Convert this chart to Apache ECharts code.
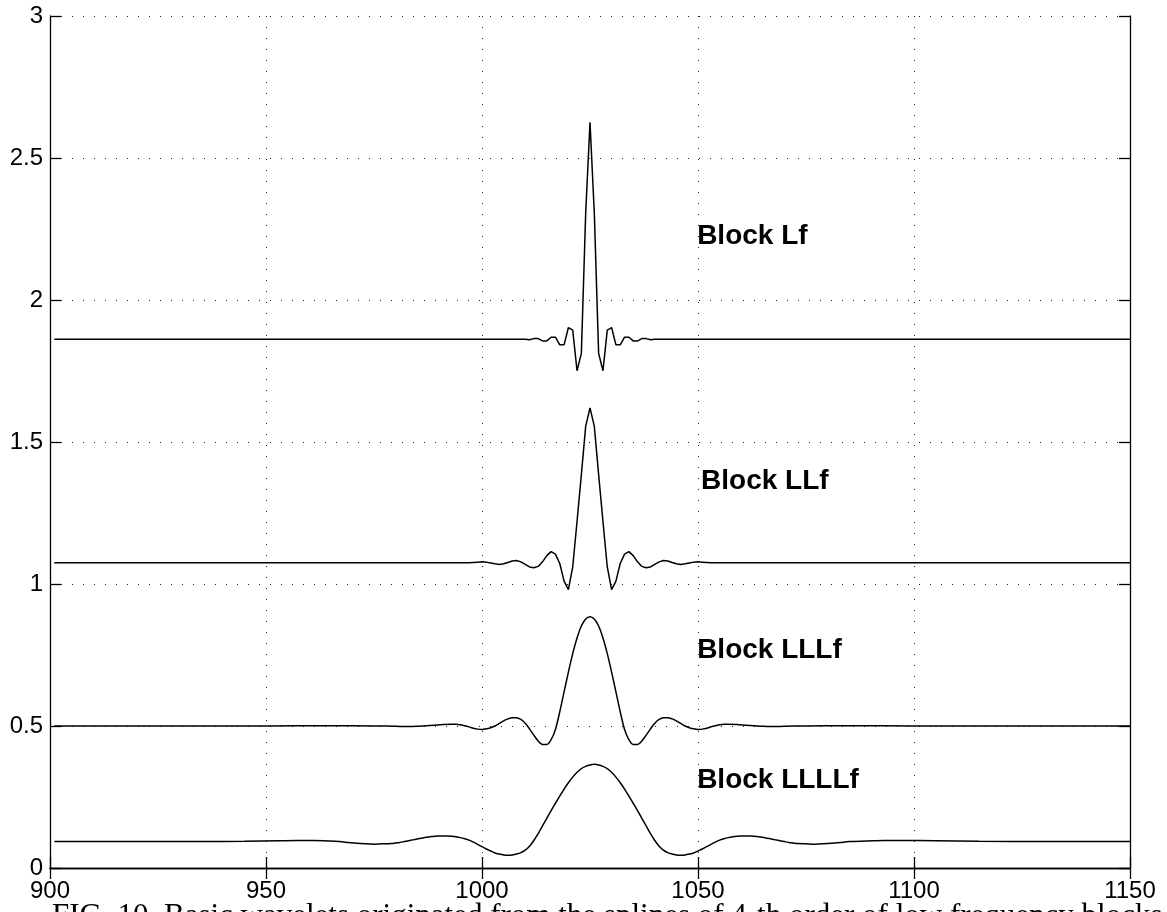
<!DOCTYPE html>
<html>
<head>
<meta charset="utf-8">
<script src="https://cdn.jsdelivr.net/npm/echarts@6/dist/echarts.min.js"></script>
<style>
  html, body { margin: 0; padding: 0; background: #fff; }
  #chart { width: 1167px; height: 912px; }
</style>
</head>
<body>
<div id="chart"></div>
<script>
// Axis ticks
const xTicks = [900, 950, 1000, 1050, 1100, 1150];
const yTicks = [0, 0.5, 1, 1.5, 2, 2.5, 3];

// Block Lf wavelet
const lfX = [901, 1010, 1011, 1012, 1013, 1014, 1015, 1016, 1017, 1018, 1019,
  1020, 1021, 1022, 1023, 1024, 1025, 1026, 1027, 1028, 1029, 1030,
  1031, 1032, 1033, 1034, 1035, 1036, 1037, 1038, 1039, 1040, 1150];
const lfY = [1.862, 1.862, 1.860, 1.864, 1.864, 1.856, 1.856, 1.869, 1.869, 1.842, 1.842,
  1.903, 1.894, 1.751, 1.812, 2.305, 2.626, 2.305, 1.812, 1.751, 1.894, 1.903,
  1.842, 1.842, 1.869, 1.869, 1.856, 1.856, 1.864, 1.864, 1.860, 1.862, 1.862];

// Block LLf wavelet
const llfX = [901, 990, 996, 997, 998, 999, 1000, 1001, 1002, 1003, 1004, 1005,
  1006, 1007, 1008, 1009, 1010, 1011, 1012, 1013, 1014, 1015, 1016, 1017,
  1018, 1019, 1020, 1021, 1022, 1023, 1024, 1025, 1026, 1027, 1028, 1029,
  1030, 1031, 1032, 1033, 1034, 1035, 1036, 1037, 1038, 1039, 1040, 1041,
  1042, 1043, 1044, 1045, 1046, 1047, 1048, 1049, 1050, 1051, 1052, 1053,
  1054, 1060, 1150];
const llfY = [1.075, 1.075, 1.075, 1.075, 1.076, 1.077, 1.078, 1.077, 1.074, 1.071, 1.069, 1.071,
  1.076, 1.081, 1.083, 1.078, 1.069, 1.060, 1.057, 1.062, 1.078, 1.100, 1.114, 1.105,
  1.072, 1.010, 0.980, 1.060, 1.220, 1.385, 1.555, 1.620, 1.555, 1.385, 1.220, 1.060,
  0.980, 1.010, 1.072, 1.105, 1.114, 1.100, 1.078, 1.062, 1.057, 1.060, 1.069, 1.078,
  1.083, 1.081, 1.076, 1.071, 1.069, 1.071, 1.074, 1.077, 1.078, 1.077, 1.076, 1.075,
  1.075, 1.075, 1.075];

// Block LLLf wavelet
const lllfX = [901, 925, 950, 965, 975, 980, 983, 985, 987, 989, 991,
  993, 994, 995, 996, 997, 998, 999, 1000, 1001, 1002, 1003, 1004, 1005, 1006,
  1007, 1008, 1009, 1010, 1011, 1012, 1013, 1014, 1015, 1016, 1017, 1018, 1019,
  1020, 1021, 1022, 1023, 1024, 1025, 1026, 1027, 1028, 1029, 1030, 1031, 1032,
  1033, 1034, 1035, 1036, 1037, 1038, 1039, 1040, 1041, 1042, 1043, 1044, 1045,
  1046, 1047, 1048, 1049, 1050, 1051, 1052, 1053, 1054, 1055, 1056, 1057,
  1059, 1061, 1063, 1065, 1067, 1070, 1075, 1085, 1100, 1125, 1150];
const lllfY = [0.500, 0.500, 0.500, 0.501, 0.500, 0.499, 0.498, 0.499, 0.501, 0.503, 0.505,
  0.506, 0.506, 0.504, 0.501, 0.497, 0.492, 0.489, 0.488, 0.490, 0.494, 0.500, 0.509, 0.518, 0.525,
  0.529, 0.529, 0.523, 0.510, 0.490, 0.468, 0.447, 0.435, 0.435, 0.452, 0.488, 0.550, 0.620,
  0.690, 0.755, 0.810, 0.852, 0.877, 0.885, 0.877, 0.852, 0.810, 0.755, 0.690, 0.620, 0.550,
  0.488, 0.452, 0.435, 0.435, 0.447, 0.468, 0.490, 0.510, 0.523, 0.529, 0.529, 0.525, 0.518,
  0.509, 0.500, 0.494, 0.490, 0.488, 0.489, 0.492, 0.497, 0.501, 0.504, 0.506, 0.506,
  0.505, 0.503, 0.501, 0.499, 0.498, 0.499, 0.500, 0.501, 0.500, 0.500, 0.500];

// Block LLLLf wavelet
const llllfX = [901, 920, 935, 945, 953, 957, 961, 965, 967, 969, 971, 973, 975, 977,
  978, 979, 980, 981, 982, 983, 984, 985, 986, 987, 988, 989, 990, 991, 992, 993,
  994, 995, 996, 997, 998, 999, 1000, 1001, 1002, 1003, 1004, 1005, 1006, 1007, 1008,
  1009, 1010, 1011, 1012, 1013, 1014, 1015, 1016, 1017, 1018, 1019, 1020, 1021, 1022,
  1023, 1024, 1025, 1026, 1027, 1028, 1029, 1030, 1031, 1032, 1033, 1034, 1035, 1036,
  1037, 1038, 1039, 1040, 1041, 1042, 1043, 1044, 1045, 1046, 1047, 1048, 1049, 1050,
  1051, 1052, 1053, 1054, 1055, 1056, 1057, 1058, 1059, 1060, 1061, 1062, 1063, 1064,
  1065, 1066, 1067, 1068, 1069, 1070, 1071, 1072, 1073, 1075, 1077, 1079, 1081, 1083,
  1085, 1089, 1093, 1097, 1105, 1115, 1130, 1150];
const llllfY = [0.093, 0.093, 0.093, 0.094, 0.096, 0.097, 0.097, 0.095, 0.093, 0.090, 0.087, 0.085, 0.084, 0.085,
  0.085, 0.086, 0.088, 0.090, 0.093, 0.096, 0.099, 0.102, 0.105, 0.108, 0.110, 0.112, 0.113, 0.113, 0.113, 0.112,
  0.110, 0.107, 0.103, 0.098, 0.091, 0.083, 0.075, 0.067, 0.060, 0.053, 0.049, 0.046, 0.045, 0.046, 0.049,
  0.054, 0.063, 0.077, 0.097, 0.121, 0.148, 0.175, 0.202, 0.228, 0.253, 0.278, 0.300, 0.320, 0.337,
  0.350, 0.358, 0.363, 0.365, 0.363, 0.358, 0.350, 0.337, 0.320, 0.300, 0.278, 0.253, 0.228, 0.202,
  0.175, 0.148, 0.121, 0.097, 0.077, 0.063, 0.054, 0.049, 0.046, 0.045, 0.046, 0.049, 0.053, 0.060,
  0.067, 0.075, 0.083, 0.091, 0.098, 0.103, 0.107, 0.110, 0.112, 0.113, 0.113, 0.113, 0.112, 0.110,
  0.108, 0.105, 0.102, 0.099, 0.096, 0.093, 0.090, 0.088, 0.086, 0.085, 0.084, 0.085, 0.087, 0.090,
  0.093, 0.095, 0.097, 0.097, 0.096, 0.094, 0.093, 0.093];

// Block names and the figure caption
const blockNames = ['Block Lf', 'Block LLf', 'Block LLLf', 'Block LLLLf'];
const caption = 'FIG. 10. Basic wavelets originated from the splines of 4-th order of low frequency blocks';

const zip = (xs, ys) => xs.map((x, i) => [x, ys[i]]);

const chart = echarts.init(document.getElementById('chart'), null, { renderer: 'canvas' });

const tickFont = { fontFamily: '"Liberation Sans", Arial, sans-serif', fontSize: 24, color: '#000' };
const frameLine = { show: true, lineStyle: { color: '#000', width: 1.3 } };
const gridDots = { show: true, lineStyle: { color: '#222', width: 1, type: [1, 10] } };
const innerTick = { show: true, inside: true, length: 11, lineStyle: { color: '#000', width: 1.3 } };
const plainNumber = v => String(v);

function waveSeries(name, data, smooth) {
  return {
    name, type: 'line', data, smooth, showSymbol: false, symbol: 'none',
    lineStyle: { color: '#000', width: 1.5 },
    xAxisIndex: 0, yAxisIndex: 0, silent: true, animation: false, z: 3
  };
}

chart.setOption({
  animation: false,
  backgroundColor: '#fff',
  grid: { left: 50, right: 37, top: 16, bottom: 44, containLabel: false },
  xAxis: [
    {
      type: 'value', min: xTicks[0], max: xTicks[xTicks.length - 1], interval: 50,
      position: 'bottom', axisLine: frameLine, axisTick: innerTick,
      axisLabel: Object.assign({ margin: 11, formatter: plainNumber }, tickFont),
      splitLine: gridDots
    },
    {
      type: 'value', min: xTicks[0], max: xTicks[xTicks.length - 1], interval: 50,
      position: 'top', axisLine: frameLine, axisTick: innerTick,
      axisLabel: { show: false }, splitLine: { show: false }
    }
  ],
  yAxis: [
    {
      type: 'value', min: yTicks[0], max: yTicks[yTicks.length - 1], interval: 0.5,
      position: 'left', axisLine: frameLine, axisTick: innerTick,
      axisLabel: Object.assign({ margin: 7, formatter: plainNumber }, tickFont),
      splitLine: gridDots
    },
    {
      type: 'value', min: yTicks[0], max: yTicks[yTicks.length - 1], interval: 0.5,
      position: 'right', axisLine: frameLine, axisTick: innerTick,
      axisLabel: { show: false }, splitLine: { show: false }
    }
  ],
  series: [
    waveSeries('Lf', zip(lfX, lfY), false),
    waveSeries('LLf', zip(llfX, llfY), false),
    waveSeries('LLLf', zip(lllfX, lllfY), 0.3),
    waveSeries('LLLLf', zip(llllfX, llllfY), 0.3)
  ]
});

// Block names placed in data space, to the right of each peak
const nameAnchors = [[1049.8, 2.218], [1050.7, 1.356], [1049.8, 0.761], [1049.8, 0.303]];
const graphics = blockNames.map((t, i) => {
  const p = chart.convertToPixel({ xAxisIndex: 0, yAxisIndex: 0 }, nameAnchors[i]);
  return {
    type: 'text', left: p[0], top: p[1] - 16, z: 10,
    style: { text: t, fill: '#000', font: 'bold 28px "Liberation Sans", Arial, sans-serif' }
  };
});
graphics.push({
  type: 'text', left: 52, top: 901, z: 10,
  style: { text: caption, fill: '#000', font: '31px "Liberation Serif", "Times New Roman", serif' }
});
chart.setOption({ graphic: graphics });
</script>
</body>
</html>
